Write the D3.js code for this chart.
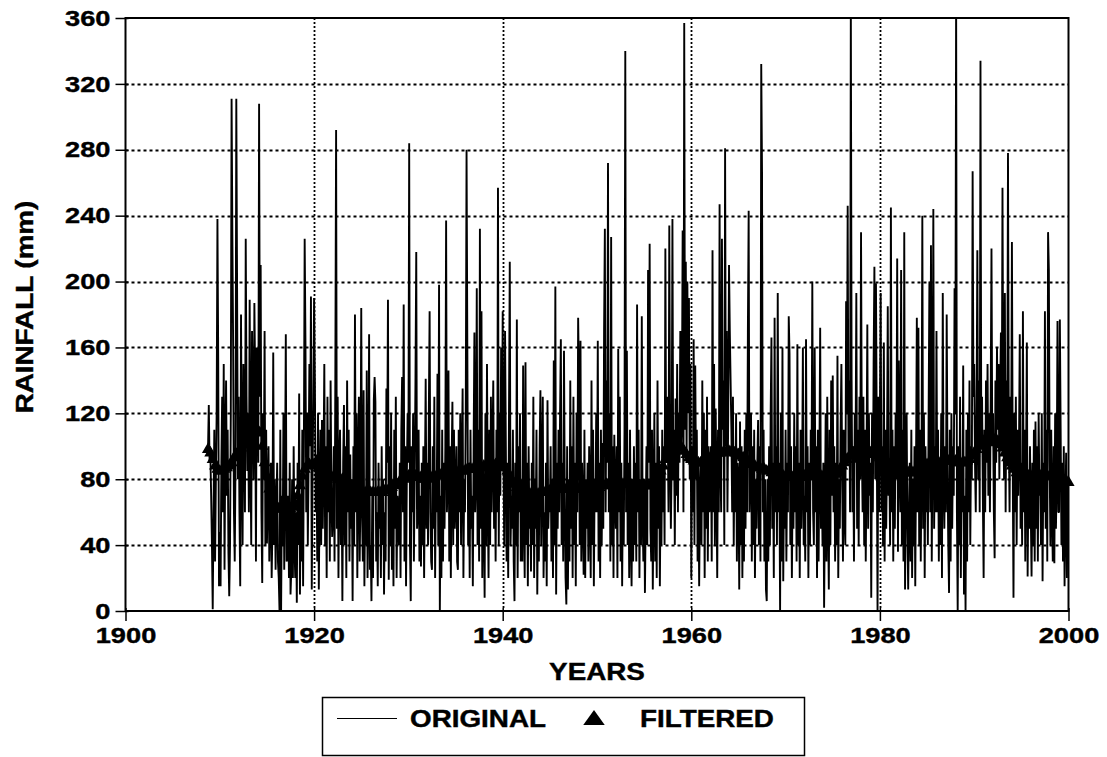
<!DOCTYPE html>
<html><head><meta charset="utf-8">
<script src="https://cdn.jsdelivr.net/npm/d3@7"></script>
<style>
body{margin:0;background:#fff}
text{font-family:"Liberation Sans",Arial,Helvetica,sans-serif;font-weight:bold;fill:#000}
</style>
</head><body>
<svg id="chart" width="1107" height="757"></svg>
<script>
// ---------------- DATA ----------------
const xTicks = [1900, 1920, 1940, 1960, 1980, 2000];
const yTicks = [0, 40, 80, 120, 160, 200, 240, 280, 320, 360];
const xGrid = [1920, 1940, 1960, 1980];
const yGrid = [40, 80, 120, 160, 200, 240, 280, 320];
const legendLabels = ["ORIGINAL", "FILTERED"];

// monthly rainfall (mm), first value = Oct 1908
const rainfallStart = 1908.75;
const rainfall = [
  98,125,90,
  95,70,40,1,60,110,30,80,120,238,151,15,
  48,15,90,130,60,150,25,100,140,70,110,35,
  9,40,120,311,228,159,60,30,90,311,196,80,
  130,60,15,180,90,40,150,110,60,226,130,85,
  120,60,189,100,40,170,130,80,187,140,30,160,
  150,90,308,130,210,60,17,120,80,170,40,110,
  41,70,100,30,60,90,20,50,157,40,80,25,
  60,90,30,20,0,110,0,70,40,120,25,80,
  168,30,32,70,20,90,10,25,80,20,100,40,
  20,60,5,90,40,132,10,70,30,110,15,100,
  226,164,60,120,40,90,150,100,191,13,80,130,
  190,140,60,95,30,120,13,70,110,40,116,50,
  90,150,40,100,20,130,60,110,30,140,70,45,
  60,100,30,139,292,50,130,20,90,110,40,80,
  6,90,125,40,100,20,140,60,110,30,95,50,
  80,6,100,40,180,60,120,20,90,130,30,70,
  184,60,30,134,15,70,40,146,20,60,168,25,
  40,6,70,20,128,142,127,30,60,15,90,50,
  70,20,100,40,80,10,60,30,135,90,189,19,
  100,40,120,25,80,15,110,50,130,20,70,60,
  40,90,20,110,142,60,186,30,100,15,80,120,
  90,284,40,6,100,60,120,30,80,140,218,50,
  60,110,30,70,27,90,40,100,20,80,141,50,
  90,40,120,182,60,30,25,100,50,130,20,80,
  60,144,40,198,0,70,20,110,30,90,50,100,
  237,60,80,146,30,100,20,90,127,40,110,50,
  70,100,30,25,110,60,120,40,90,135,20,80,
  60,120,280,160,40,90,20,110,50,70,15,100,
  169,60,80,196,40,110,30,232,50,182,20,90,
  60,8,120,40,150,70,20,110,40,130,60,100,
  140,50,90,30,110,60,257,40,120,70,160,90,
  182,90,40,170,100,30,90,20,120,212,40,70,
  50,110,30,6,90,40,177,20,100,60,120,30,
  80,30,149,60,20,151,40,90,15,100,50,70,
  24,90,40,130,20,80,50,110,10,70,30,100,
  134,40,80,130,20,60,30,90,15,128,50,70,
  60,100,30,80,20,152,40,197,10,90,50,110,
  60,120,165,40,90,30,158,70,20,4,100,13,
  80,30,140,50,100,20,130,40,90,15,120,60,
  178,142,40,164,30,90,60,22,110,20,80,50,
  90,30,100,68,20,140,40,110,15,80,60,120,
  60,164,30,90,20,110,40,102,50,170,232,60,
  140,90,272,60,120,30,227,40,100,20,107,70,
  50,100,20,159,60,130,30,90,15,80,40,110,
  340,60,158,40,90,20,110,50,15,80,30,100,
  40,90,30,186,60,110,20,80,40,179,60,30,
  80,11,60,100,40,207,90,223,50,30,110,13,
  70,120,30,90,20,140,50,100,15,80,40,110,
  60,100,40,220,90,130,110,60,234,100,50,90,
  238,80,110,40,129,70,150,60,120,90,170,100,
  120,231,60,357,110,212,90,200,120,190,80,150,
  20,100,60,165,40,149,80,110,30,90,15,70,
  90,40,140,60,120,20,110,50,130,30,100,60,
  70,100,30,219,60,150,40,123,80,20,110,60,
  247,90,60,226,110,140,40,281,100,170,60,120,
  210,170,140,110,60,130,40,100,60,120,30,90,
  80,13,115,40,100,20,90,30,110,50,120,60,
  169,243,60,90,120,30,100,40,110,20,80,50,
  90,116,40,100,30,332,267,60,110,30,80,13,
  6,80,30,100,40,120,166,50,90,20,178,60,
  100,40,193,60,90,0,120,30,160,18,80,50,
  110,30,90,60,179,156,40,100,20,80,50,120,
  60,100,30,162,40,90,20,110,50,80,160,40,
  70,30,165,60,100,20,90,40,110,80,200,60,
  40,160,60,100,20,110,30,90,172,50,80,40,
  90,2,60,120,30,130,60,13,110,40,140,70,
  143,60,100,30,90,40,155,20,80,50,110,150,
  80,30,110,60,40,188,120,246,90,140,60,370,
  140,60,100,30,120,90,193,50,110,40,130,80,
  230,100,60,130,40,110,30,90,174,50,120,70,
  90,8,120,60,150,209,80,199,110,0,130,60,
  120,193,60,100,40,163,30,110,50,90,185,70,
  90,40,245,60,110,30,100,50,120,80,214,36,
  152,90,60,207,40,110,30,230,13,80,120,50,
  13,60,90,30,110,20,80,40,100,15,90,178,
  60,172,40,110,30,90,240,50,120,20,100,60,
  90,40,120,200,60,222,30,110,244,50,100,60,
  170,60,110,30,90,40,120,20,193,80,50,100,
  60,180,90,40,11,110,30,120,50,100,70,196,
  120,375,60,0,100,40,130,20,90,60,149,10,
  70,0,110,30,120,60,140,40,100,80,267,130,
  150,90,60,120,219,80,140,60,334,100,130,70,
  20,110,60,140,90,150,70,120,60,130,220,100,
  120,60,32,140,90,160,110,150,80,130,169,100,
  257,120,80,193,60,140,90,278,110,60,130,90,
  224,90,8,120,60,130,40,110,70,100,168,50,
  90,40,182,60,110,30,90,163,21,80,50,100,
  60,21,90,40,110,30,115,50,100,30,120,70,
  80,40,120,18,90,60,182,50,110,30,230,207,
  90,40,110,60,30,100,29,120,50,80,176,60,
  60,177,111,40,90,30,100,15,60,96,20,81
];

// filtered series (quarterly), first value = Oct 1908
const filteredStart = 1908.75;
const filtered = [
  98,
  96,92,88,86, 85,85,86,87, 88,90,93,95, 97,99,101,103, 105,107,109,110,
  110,108,100,90, 82,74,68,65, 63,62,62,62, 62,62,62,63, 65,70,76,82,
  86,88,89,89, 89,88,87,86, 85,84,83,82, 81,81,80,80, 80,79,78,77,
  76,75,74,73, 73,72,72,72, 72,72,72,72, 72,72,73,73, 74,75,76,77,
  78,79,80,81, 82,82,82,82, 81,81,80,80, 80,81,81,82, 82,83,83,83,
  83,83,83,84, 84,84,85,85, 85,86,86,86, 86,87,87,87, 88,88,88,88,
  89,89,89,89, 88,87,85,82, 79,77,75,73, 72,72,71,71, 71,71,71,71,
  72,72,72,73, 73,73,74,74, 74,74,74,74, 74,74,74,74, 74,74,74,74,
  74,74,74,74, 75,75,76,76, 77,77,77,77, 77,77,77,77, 77,77,77,76,
  76,76,76,76, 76,76,76,77, 78,80,82,85, 88,92,95,98, 100,101,101,100,
  99,97,95,93, 92,91,90,90, 90,90,91,92, 93,94,95,96, 96,96,97,97,
  97,97,96,96, 95,94,93,92, 91,90,89,88, 87,87,86,86, 85,85,84,84,
  84,83,83,82, 82,81,81,81, 81,81,81,81, 82,82,82,82, 82,82,82,82,
  82,82,82,82, 82,83,84,86, 88,90,92,94, 95,96,96,96, 96,96,96,96,
  96,96,95,94, 93,92,91,90, 89,88,87,86, 85,85,84,84, 84,84,84,85,
  86,87,88,88, 89,89,90,90, 90,90,90,91, 91,91,91,91, 91,90,90,90,
  90,91,92,94, 96,98,100,102, 103,104,105,105, 105,104,103,101, 99,96,93,90,
  88,86,84,83, 82,82,82,82, 82,82,82,82, 82,82,82,82, 82,82,81,81,
  80,80,79,79,
  78
];

// ---------------- CHART ----------------
const svg = d3.select("#chart");
const L = 125.5, R = 1068.5, T = 18, B = 611;
const x = d3.scaleLinear().domain([1900, 2000]).range([L, R]);
const y = d3.scaleLinear().domain([0, 360]).range([B, T]);
const SX = 1.21; // horizontal stretch of the lettering

svg.append("defs").append("clipPath").attr("id", "plotclip")
  .append("rect").attr("x", L).attr("y", T).attr("width", R - L).attr("height", B - T);

// grid
svg.append("g").selectAll("line").data(yGrid).join("line")
  .attr("x1", L).attr("x2", R).attr("y1", d => Math.round(y(d)) + 0.5).attr("y2", d => Math.round(y(d)) + 0.5)
  .attr("stroke", "#000").attr("stroke-width", 1.8).attr("stroke-dasharray", "3,3");
svg.append("g").selectAll("line").data(xGrid).join("line")
  .attr("y1", T).attr("y2", B).attr("x1", d => Math.round(x(d)) + 0.5).attr("x2", d => Math.round(x(d)) + 0.5)
  .attr("stroke", "#000").attr("stroke-width", 1.8).attr("stroke-dasharray", "2,2");

// original series
const line = d3.line().x((d, i) => x(rainfallStart + i / 12)).y(d => y(d));
svg.append("path").datum(rainfall)
  .attr("clip-path", "url(#plotclip)")
  .attr("d", line).attr("fill", "none").attr("stroke", "#000")
  .attr("stroke-width", 1.9).attr("stroke-linejoin", "miter").attr("stroke-miterlimit", 1);

// filtered series as triangles
const tri = d3.symbol().type(d3.symbolTriangle).size(64);
svg.append("g").selectAll("path").data(filtered).join("path")
  .attr("d", tri)
  .attr("transform", (d, i) => `translate(${x(filteredStart + i / 4)},${y(d)})`)
  .attr("fill", "#000");

// frame
svg.append("rect").attr("x", L).attr("y", T).attr("width", R - L).attr("height", B - T)
  .attr("fill", "none").attr("stroke", "#000").attr("stroke-width", 2);

// axes
const yAxis = svg.append("g").attr("transform", `translate(${L},0)`)
  .call(d3.axisLeft(y).tickValues(yTicks).tickSize(10).tickFormat(d3.format("d")));
yAxis.select(".domain").remove();
yAxis.selectAll(".tick line").attr("x1", 3).attr("stroke-width", 1.5);
yAxis.selectAll("text").attr("font-size", 22.5)
  .attr("x", -15 / SX).attr("transform", `scale(${SX},1)`)
  .attr("stroke", "#000").attr("stroke-width", 0.4);
yAxis.attr("font-family", null).attr("font-size", null);

const xAxis = svg.append("g").attr("transform", `translate(0,${B})`)
  .call(d3.axisBottom(x).tickValues(xTicks).tickSize(10).tickFormat(d3.format("d")));
xAxis.select(".domain").remove();
xAxis.selectAll(".tick line").attr("y1", -3).attr("stroke-width", 1.5);
xAxis.selectAll("text").attr("font-size", 22.5).attr("y", 16)
  .attr("transform", `scale(${SX},1)`)
  .attr("stroke", "#000").attr("stroke-width", 0.4);
xAxis.attr("font-family", null).attr("font-size", null);

// axis titles
svg.append("text").attr("transform", `translate(${(L + R) / 2},680) scale(${SX},1)`)
  .attr("text-anchor", "middle").attr("font-size", 23)
  .attr("stroke", "#000").attr("stroke-width", 0.4).text("YEARS");
svg.append("text").attr("transform", `translate(33,307) rotate(-90) scale(${SX},1)`)
  .attr("text-anchor", "middle").attr("font-size", 23)
  .attr("stroke", "#000").attr("stroke-width", 0.4).text("RAINFALL (mm)");

// legend
const lg = svg.append("g");
lg.append("rect").attr("x", 322.5).attr("y", 697.5).attr("width", 482).attr("height", 58)
  .attr("fill", "none").attr("stroke", "#000").attr("stroke-width", 1.5);
lg.append("line").attr("x1", 337).attr("x2", 397).attr("y1", 718.5).attr("y2", 718.5)
  .attr("stroke", "#000").attr("stroke-width", 1.2);
lg.append("text").attr("transform", `translate(410,727) scale(${SX},1)`)
  .attr("font-size", 23).attr("stroke", "#000").attr("stroke-width", 0.4).text(legendLabels[0]);
lg.append("path").attr("d", d3.symbol().type(d3.symbolTriangle).size(200))
  .attr("transform", "translate(594,720) scale(1,0.8)").attr("fill", "#000");
lg.append("text").attr("transform", `translate(640,727) scale(${SX},1)`)
  .attr("font-size", 23).attr("stroke", "#000").attr("stroke-width", 0.4).text(legendLabels[1]);
</script>
</body></html>
